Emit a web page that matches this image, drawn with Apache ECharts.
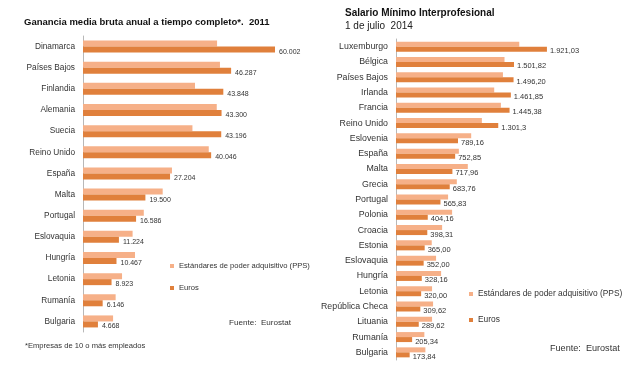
<!DOCTYPE html>
<html>
<head>
<meta charset="utf-8">
<title>Ganancia media y salario mínimo</title>
<script src="https://cdn.jsdelivr.net/npm/echarts@6/dist/echarts.min.js"></script>
<style>
  html, body { margin: 0; padding: 0; background: #fff; }
  #main { width: 635px; height: 376px; }
</style>
</head>
<body>
<div id="main"></div>
<script>
// izquierda: ganancia media bruta anual 2011
var paisesGan = ['Dinamarca', 'Países Bajos', 'Finlandia', 'Alemania', 'Suecia', 'Reino Unido', 'España',
  'Malta', 'Portugal', 'Eslovaquia', 'Hungría', 'Letonia', 'Rumanía', 'Bulgaria'];
var ganPPS = [41900, 42800, 35000, 41800, 34200, 39300, 27800, 24900, 19000, 15500, 16250, 12200, 10200, 9400];
var ganEuros = [60002, 46287, 43848, 43300, 43196, 40046, 27204, 19500, 16586, 11224, 10467, 8923, 6146, 4668];

// derecha: salario mínimo 1 julio 2014
var paisesSmi = ['Luxemburgo', 'Bélgica', 'Países Bajos', 'Irlanda', 'Francia', 'Reino Unido', 'Eslovenia',
  'España', 'Malta', 'Grecia', 'Portugal', 'Polonia', 'Croacia', 'Estonia', 'Eslovaquia', 'Hungría',
  'Letonia', 'República Checa', 'Lituania', 'Rumanía', 'Bulgaria'];
var smiPPS = [1569, 1381, 1361, 1250, 1335, 1093, 957, 800, 914, 774, 663, 714, 587, 455, 510, 574, 459, 472, 459, 361, 374];
var smiEuros = [1921.03, 1501.82, 1496.20, 1461.85, 1445.38, 1301.3, 789.16, 752.85, 717.96, 683.76, 565.83,
  404.16, 398.31, 365.00, 352.00, 328.16, 320.00, 309.62, 289.62, 205.34, 173.84];
var smiEtiquetas = ['1.921,03', '1.501,82', '1.496,20', '1.461,85', '1.445,38', '1.301,3', '789,16', '752,85',
  '717,96', '683,76', '565,83', '404,16', '398,31', '365,00', '352,00', '328,16', '320,00', '309,62',
  '289,62', '205,34', '173,84'];

var claro = '#f6b088', oscuro = '#e0803c';
var nPPS = 'Estándares de poder adquisitivo (PPS)', nEur = 'Euros';
var fuente = 'Liberation Sans, Arial, sans-serif';

function miles(v) {
  return String(v).replace(/\B(?=(\d{3})+(?!\d))/g, '.');
}

var ejeY = function (idx, datos, size) {
  return {
    type: 'category', gridIndex: idx, data: datos, inverse: true,
    axisLine: { lineStyle: { color: '#b8b8b8' } },
    axisTick: { length: 4, lineStyle: { color: '#b8b8b8' } },
    axisLabel: { color: '#333', fontSize: size, fontFamily: fuente, margin: 8 }
  };
};

var option = {
  backgroundColor: '#fff',
  textStyle: { fontFamily: fuente },
  animation: false,
  title: [
    { text: 'Ganancia media bruta anual a tiempo completo*.  2011', left: 19, top: 12,
      textStyle: { fontSize: 9.5, fontWeight: 'bold', color: '#111' } },
    { text: 'Salario Mínimo Interprofesional', left: 340, top: 3,
      textStyle: { fontSize: 10, fontWeight: 'bold', color: '#111' } },
    { text: '1 de julio  2014', left: 340, top: 16,
      textStyle: { fontSize: 10, fontWeight: 'normal', color: '#222' } },
    { text: 'Fuente:  Eurostat', left: 224, top: 314,
      textStyle: { fontSize: 8.1, fontWeight: 'normal', color: '#333' } },
    { text: 'Fuente:  Eurostat', left: 545, top: 339,
      textStyle: { fontSize: 9.1, fontWeight: 'normal', color: '#333' } },
    { text: '*Empresas de 10 o más empleados', left: 20, top: 337,
      textStyle: { fontSize: 7.6, fontWeight: 'normal', color: '#333' } }
  ],
  legend: [
    { data: [nPPS, nEur], orient: 'vertical', left: 165, top: 257, itemGap: 14,
      itemWidth: 4, itemHeight: 4, icon: 'rect',
      textStyle: { fontSize: 7.6, color: '#333' } },
    { data: [nPPS, nEur], orient: 'vertical', left: 464, top: 285, itemGap: 18,
      itemWidth: 4, itemHeight: 4, icon: 'rect',
      textStyle: { fontSize: 8.4, color: '#333' } }
  ],
  grid: [
    { left: 83, top: 36, width: 208, height: 296 },
    { left: 396, top: 39, width: 165, height: 321 }
  ],
  xAxis: [
    { type: 'value', gridIndex: 0, min: 0, max: 65000, show: false, splitLine: { show: false } },
    { type: 'value', gridIndex: 1, min: 0, max: 2100, show: false, splitLine: { show: false } }
  ],
  yAxis: [ejeY(0, paisesGan, 8.3), ejeY(1, paisesSmi, 8.8)],
  series: [
    { name: nPPS, type: 'bar', xAxisIndex: 0, yAxisIndex: 0, data: ganPPS, barWidth: 6, barGap: '0%',
      itemStyle: { color: claro } },
    { name: nEur, type: 'bar', xAxisIndex: 0, yAxisIndex: 0, data: ganEuros, barWidth: 6, barGap: '0%',
      itemStyle: { color: oscuro },
      label: { show: true, position: 'right', distance: 4, offset: [0, 2], fontSize: 7, color: '#333',
        formatter: function (p) { return miles(p.value); } } },
    { name: nPPS, type: 'bar', xAxisIndex: 1, yAxisIndex: 1, data: smiPPS, barWidth: 5, barGap: '0%',
      itemStyle: { color: claro } },
    { name: nEur, type: 'bar', xAxisIndex: 1, yAxisIndex: 1, data: smiEuros, barWidth: 5, barGap: '0%',
      itemStyle: { color: oscuro },
      label: { show: true, position: 'right', distance: 3, offset: [0, 2], fontSize: 7.5, color: '#333',
        formatter: function (p) { return smiEtiquetas[p.dataIndex]; } } }
  ]
};

var myChart = echarts.init(document.getElementById('main'));
myChart.setOption(option);
</script>
</body>
</html>
